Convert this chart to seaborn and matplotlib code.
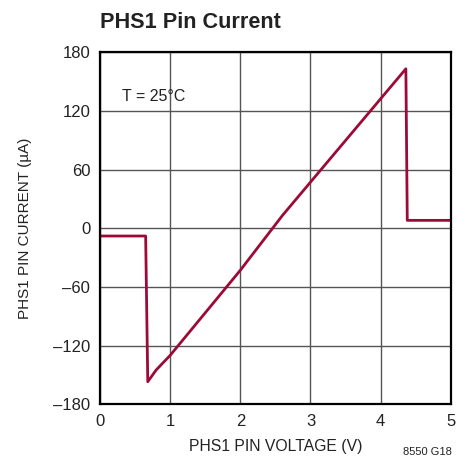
import matplotlib
matplotlib.use("Agg")
import matplotlib.pyplot as plt
import seaborn as sns
import pandas as pd
from matplotlib import font_manager

voltage = [0.0, 0.65, 0.68, 0.8, 1.0, 2.0, 2.6, 4.36, 4.38, 5.0]
current = [-8, -8, -157, -145, -130, -43, 13, 163, 8, 8]
xticks = [0, 1, 2, 3, 4, 5]
yticks = [-180, -120, -60, 0, 60, 120, 180]
ytick_labels = ["\u2013180", "\u2013120", "\u201360", "0", "60", "120", "180"]

sns.set_theme(style="white")
names = {f.name for f in font_manager.fontManager.ttflist}
fam = "Liberation Sans Narrow" if "Liberation Sans Narrow" in names else "Liberation Sans"
plt.rcParams['font.family'] = [fam, 'DejaVu Sans']

df = pd.DataFrame({"v": voltage, "i": current})

fig = plt.figure(figsize=(4.72, 4.70), dpi=100)
ax = fig.add_axes([0.212, 0.140, 0.743, 0.749])
sns.lineplot(data=df, x="v", y="i", ax=ax, color="#9c0a38", linewidth=2.0, sort=False)

ax.set_xlim(0, 5)
ax.set_ylim(-180, 180)
ax.set_xticks(xticks)
ax.set_yticks(yticks)
ax.set_xticklabels([str(t) for t in xticks], fontsize=12)
ax.set_yticklabels(ytick_labels, fontsize=12)
ax.grid(True, color="#555555", linewidth=1.0)
ax.tick_params(length=0, pad=7, colors="#222222")
for s in ax.spines.values():
    s.set_color("black")
    s.set_linewidth(1.6)
ax.set_xlabel("PHS1 PIN VOLTAGE (V)", fontsize=11.3, color="#222222")
ax.set_ylabel("PHS1 PIN CURRENT (\u00b5A)", fontsize=11, color="#222222")
ax.xaxis.set_label_coords(0.5, -0.10)
ax.yaxis.set_label_coords(-0.194, 0.5)

ax.text(0.31, 135, "T = 25\u00b0C", fontsize=11.5, color="#222222", va="center", ha="left")
fig.text(100/472, 1 - 23/470, "PHS1 Pin Current", fontsize=15.6, fontweight="bold",
         color="#222222", va="center", ha="left")
fig.text(452/472, 1 - 452/470, "8550 G18", fontsize=8, color="#222222", va="center", ha="right")

fig.savefig("out.png", dpi=100)
